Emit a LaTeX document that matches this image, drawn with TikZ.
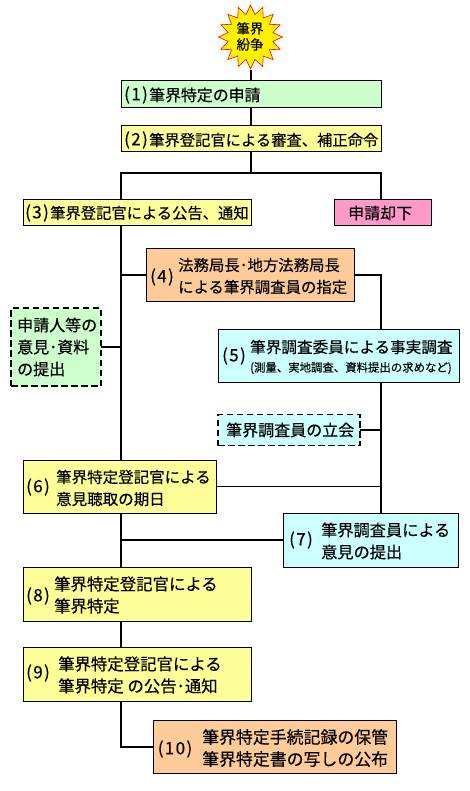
\documentclass[tikz,border=0pt]{standalone}
\usepackage{fontspec}
\setmainfont[RawFeature={embolden=0.35}]{Noto Sans CJK JP}
\usetikzlibrary{positioning,shapes.geometric}
\definecolor{FlowGreen}{HTML}{CCFFCC}
\definecolor{FlowYellow}{HTML}{FFFF99}
\definecolor{FlowPink}{HTML}{FF99CC}
\definecolor{FlowOrange}{HTML}{FFCC99}
\definecolor{FlowCyan}{HTML}{CCFFFF}

\begin{document}
\begin{tikzpicture}[
    x=1pt,y=-1pt,
    flowbox/.style={
      draw=black,
      line width=1pt,
      inner sep=0pt,
      outer sep=0pt
    },
    dashbox/.style={
      flowbox,
      dash pattern=on 6.5pt off 3.5pt,
      line width=1.5pt
    },
    flowtxt/.style={
      anchor=west,
      align=left,
      inner sep=0pt,
      font=\fontsize{#1}{22}\selectfont
    },
    flowtxt/.default=15.5,
    flowno/.style={
      anchor=center,
      inner sep=0pt,
      font=\fontsize{17}{20}\selectfont\addfontfeature{LetterSpace=8}
    },
    link/.style={line width=1.6pt,draw=black}]

    \useasboundingbox (0,0) rectangle (470,791);

    % Start mark
    \node[star,star points=16,star point ratio=1.4,minimum size=64pt,inner sep=0pt,
      draw=red,fill=yellow,line width=.6pt] (burst) at (250.5,37) {};
    \node[anchor=center,align=center,inner sep=0pt,font=\fontsize{13.5}{16}\selectfont] (bursttxt) at (250,36.5) {筆界\\紛争};

    % Boxes
    \node[flowbox,fill=FlowGreen,minimum width=260pt,minimum height=27pt] (n1) at (251,94.5) {};
    \node[flowbox,fill=FlowYellow,minimum width=260pt,minimum height=26pt] (n2) at (251,139) {};
    \node[flowbox,fill=FlowYellow,minimum width=228pt,minimum height=26pt] (n3) at (137,213) {};
    \node[flowbox,fill=FlowPink,minimum width=97pt,minimum height=26pt] (reject) at (382.5,213) {};
    \node[flowbox,fill=FlowOrange,minimum width=208pt,minimum height=53pt] (n4) at (250,275) {};
    \node[flowbox,fill=FlowCyan,minimum width=241pt,minimum height=53pt] (n5) at (338.5,355.5) {};
    \node[dashbox,fill=FlowGreen,minimum width=90pt,minimum height=78pt] (opinion) at (56,347) {};
    \node[dashbox,fill=FlowCyan,minimum width=142pt,minimum height=31pt] (witness) at (289,430) {};
    \node[flowbox,fill=FlowYellow,minimum width=193pt,minimum height=53pt] (n6) at (119.5,486.5) {};
    \node[flowbox,fill=FlowCyan,minimum width=175pt,minimum height=54pt] (n7) at (370.5,540) {};
    \node[flowbox,fill=FlowYellow,minimum width=228pt,minimum height=54pt] (n8) at (137,594) {};
    \node[flowbox,fill=FlowYellow,minimum width=228pt,minimum height=54pt] (n9) at (137,674) {};
    \node[flowbox,fill=FlowOrange,minimum width=243pt,minimum height=53pt] (n10) at (274.5,746.5) {};

    % Box texts
    \node[flowno] (no1) at (136,95) {(1)};
    \node[flowtxt=15.9] (t1) at (149,95) {筆界特定の申請};
    \node[flowno] (no2) at (136,140) {(2)};
    \node[flowtxt=15.3] (t2) at (149,140) {筆界登記官による審査、補正命令};
    \node[flowno] (no3) at (37,213) {(3)};
    \node[flowtxt=15.3] (t3) at (50,213) {筆界登記官による公告、通知};
    \node[flowtxt=16] (t0) at (348,213) {申請却下};
    \node[flowno] (no4) at (162,277) {(4)};
    \node[flowtxt=15.4] (t4) at (178,276) {法務局長･地方法務局長\\による筆界調査員の指定};
    \node[flowno] (no5) at (234,356) {(5)};
    \node[flowtxt=15.6] (t5) at (250,347) {筆界調査委員による事実調査};
    \node[flowtxt=11.4] (t5b) at (250,368) {(測量、実地調査、資料提出の求めなど)};
    \node[flowtxt=16] (topinion) at (17,347) {申請人等の\\意見･資料\\の提出};
    \node[flowtxt=16] (twitness) at (226,430) {筆界調査員の立会};
    \node[flowno] (no6) at (38,487) {(6)};
    \node[flowtxt=15.5] (t6) at (56,488) {筆界特定登記官による\\意見聴取の期日};
    \node[flowno] (no7) at (301,540) {(7)};
    \node[flowtxt=16.2] (t7) at (321,541) {筆界調査員による\\意見の提出};
    \node[flowno] (no8) at (38,596) {(8)};
    \node[flowtxt=16.4] (t8) at (54,595) {筆界特定登記官による\\筆界特定};
    \node[flowno] (no9) at (38,673) {(9)};
    \node[flowtxt=16.4] (t9) at (58,675) {筆界特定登記官による\\筆界特定 の公告･通知};
    \node[flowno] (no10) at (175,749) {(10)};
    \node[flowtxt=16.9] (t10) at (202,748) {筆界特定手続記録の保管\\筆界特定書の写しの公布};

    % Branch points
    \coordinate (left) at (121,173);
    \coordinate (right) at (381,173);

    % Upper part
    \draw[link,line width=2pt] (burst.south) -- (burst.south |- n1.north);
    \draw[link,line width=2pt] (n1.south) -- (n2.north);
    \draw[link,line width=2pt] (n2.south) -- (n2.south |- left);
    \draw[link,line width=2pt] (left |- n3.north) -- (left) -- (right) -- (right |- reject.north);

    % Left trunk
    \draw[link] (left |- n3.south) -- (left |- n6.north);
    \draw[link] (left |- n6.south) -- (left |- n8.north);
    \draw[link] (left |- n8.south) -- (left |- n9.north);
    \draw[link,line width=2pt] (left |- n9.south) |- (n10.west);
    \draw[link] (n4.west) -- (n4.west -| left);
    \draw[link] (opinion.east) -- (opinion.east -| left);
    \draw[link] (n7.west) -- (n7.west -| left);

    % Right trunk
    \draw[link] (n4.east) -| (right |- n5.north);
    \draw[link] (right |- n5.south) -- (right |- n7.north);
    \draw[link] (witness.east) -- (witness.east -| right);
    \draw[link] (n6.east) -- (n6.east -| right);
  \end{tikzpicture}
\end{document}
